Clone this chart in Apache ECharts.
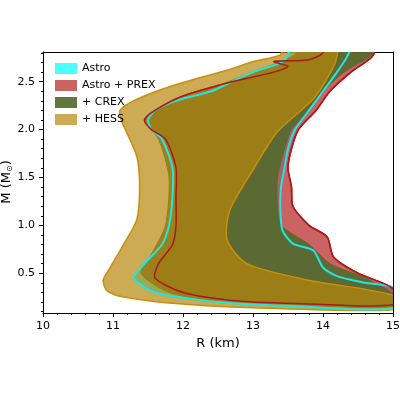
<!DOCTYPE html><html><head><meta charset="utf-8"><script src="https://cdn.jsdelivr.net/npm/echarts@6/dist/echarts.min.js"></script></head><body style="margin:0"><div id="c" style="width:400px;height:400px"></div><script>
const astroLeft=[[15,0.135],[13.5,0.16],[12.5,0.2],[11.6,0.3],[11.3,0.45],[11.45,0.6],[11.7,0.8],[11.8,1.0],[11.85,1.3],[11.85,1.6],[11.7,1.9],[11.55,2.0],[11.5,2.1],[11.6,2.2],[11.9,2.3],[12.4,2.4],[12.7,2.5],[13.0,2.6],[13.4,2.7],[13.5,2.77],[13.55,2.9]];
const astroRight=[[14.4,2.9],[14.35,2.77],[14.2,2.6],[14.0,2.4],[13.8,2.2],[13.6,2.0],[13.5,1.8],[13.45,1.6],[13.4,1.4],[13.39,1.2],[13.42,0.95],[13.57,0.81],[13.86,0.74],[14.0,0.56],[14.2,0.47],[14.6,0.4],[15,0.35]];
const prexLeft=[[15,0.17],[13.8,0.18],[12.8,0.21],[12.0,0.3],[11.6,0.45],[11.65,0.6],[11.85,0.8],[11.9,1.0],[11.9,1.3],[11.9,1.6],[11.75,1.9],[11.55,2.0],[11.45,2.1],[11.6,2.2],[12.0,2.35],[12.7,2.5],[13.3,2.6],[13.5,2.66],[13.3,2.71],[13.8,2.73],[14.0,2.8],[14.0,2.9]];
const prexRight=[[14.75,2.9],[14.7,2.76],[14.4,2.6],[14.1,2.4],[13.9,2.2],[13.65,2.0],[13.55,1.8],[13.5,1.6],[13.55,1.4],[13.57,1.2],[13.8,1.0],[14.06,0.88],[14.15,0.67],[14.5,0.5],[15,0.34]];
const crexLeft=[[15,0.15],[13.5,0.17],[12.5,0.21],[11.8,0.3],[11.4,0.5],[11.55,0.7],[11.75,1.0],[11.8,1.5],[11.65,1.9],[11.45,2.1],[11.6,2.2],[12.3,2.4],[13.0,2.6],[13.6,2.78],[13.65,2.9]];
const crexRight=[[14.75,2.9],[14.7,2.78],[14.3,2.6],[14.0,2.4],[13.8,2.2],[13.55,2.0],[13.45,1.8],[13.35,1.5],[13.35,1.2],[13.4,1.0],[13.8,0.8],[14.1,0.6],[14.6,0.45],[15,0.28]];
const hessLeft=[[15,0.12],[13.0,0.14],[11.8,0.19],[11.1,0.26],[10.91,0.32],[10.86,0.43],[10.96,0.56],[11.15,0.8],[11.34,1.06],[11.38,1.4],[11.34,1.72],[11.13,2.08],[11.1,2.2],[11.29,2.3],[11.86,2.46],[12.63,2.62],[13.0,2.71],[13.39,2.78],[13.45,2.9]];
const hessRight=[[14.2,2.9],[14.2,2.77],[14.14,2.64],[13.86,2.32],[13.34,1.97],[13.0,1.58],[12.67,1.16],[12.63,0.85],[12.91,0.6],[13.77,0.43],[15,0.27]];
const xTicks=[10,11,12,13,14,15];
const yTicks=[0.5,1.0,1.5,2.0,2.5];
const yMinor=[0.1,0.2,0.3,0.4,0.6,0.7,0.8,0.9,1.1,1.2,1.3,1.4,1.6,1.7,1.8,1.9,2.1,2.2,2.3,2.4,2.6,2.7,2.8];
const bands=[
 {name:'Astro',left:astroLeft,right:astroRight,fill:'rgba(0,255,255,0.7)',edge:'#22e6e6',lw:2},
 {name:'Astro + PREX',left:prexLeft,right:prexRight,fill:'rgba(190,60,60,0.8)',edge:'#b01818',lw:1.5},
 {name:'+ CREX',left:crexLeft,right:crexRight,fill:'rgba(85,107,47,0.92)',edge:'#556b2f',lw:1},
 {name:'+ HESS',left:hessLeft,right:hessRight,fill:'rgba(184,134,11,0.7)',edge:'#c8900a',lw:1.5}];
const series=bands.map(b=>({type:'custom',name:b.name,coordinateSystem:'cartesian2d',data:[[0,0]],clip:true,
 itemStyle:{color:b.fill},
 renderItem:(p,api)=>{const pts=b.left.concat(b.right).map(d=>api.coord(d));
  return {type:'polygon',shape:{points:pts,smooth:0.25},style:{fill:b.fill,stroke:b.edge,lineWidth:b.lw}};}}));
[bands[0],bands[1]].forEach(b=>series.push({type:'custom',name:b.name+'_edge',coordinateSystem:'cartesian2d',data:[[0,0]],clip:true,z:5,
 renderItem:(p,api)=>({type:'polygon',shape:{points:b.left.concat(b.right).map(d=>api.coord(d)),smooth:0.25},style:{fill:'none',stroke:b.edge,lineWidth:b.lw}})}));
const ch=echarts.init(document.getElementById('c'));
const tf={fontFamily:'DejaVu Sans',color:'#000',fontSize:11};
ch.setOption({animation:false,
 grid:{left:43,right:7,top:52,bottom:87,outerBoundsMode:'none',containLabel:false},
 graphic:[{type:'text',x:7,y:182,rotation:Math.PI/2,style:{text:'M (M{s|⊙})',fill:'#000',font:'13px DejaVu Sans',align:'center',verticalAlign:'middle',rich:{s:{fontSize:8,fontFamily:'DejaVu Sans',padding:[5,0,0,0]}}}}],
 legend:{left:50,top:58,orient:'vertical',itemWidth:22,itemHeight:11,itemGap:6,textStyle:{fontFamily:'DejaVu Sans',fontSize:11,color:'#000'},data:bands.map(b=>({name:b.name,icon:'rect',itemStyle:{color:b.fill}}))},
 xAxis:[{type:'value',min:10,max:15,interval:1,name:'R (km)',nameLocation:'middle',nameGap:22,nameTextStyle:{fontFamily:'DejaVu Sans',fontSize:13,color:'#000'},
  axisLine:{onZero:false,lineStyle:{color:'#000'}},axisTick:{inside:false,length:4,lineStyle:{color:'#000'}},minorTick:{show:true,splitNumber:5,length:2,lineStyle:{color:'#000'}},axisLabel:tf,splitLine:{show:false}},
  {type:'value',min:10,max:15,position:'top',axisLine:{onZero:false,lineStyle:{color:'#000'}},axisTick:{show:false},axisLabel:{show:false},splitLine:{show:false}}],
 yAxis:[{type:'value',min:0.085,max:2.81,
  axisLine:{onZero:false,lineStyle:{color:'#000'}},axisTick:{length:4,customValues:yTicks,lineStyle:{color:'#000'}},axisLabel:Object.assign({customValues:yTicks,formatter:v=>v.toFixed(1)},tf),splitLine:{show:false}},
  {type:'value',min:0.085,max:2.81,position:'left',axisLine:{show:false},axisTick:{length:2,customValues:yMinor,lineStyle:{color:'#000'}},axisLabel:{show:false},splitLine:{show:false}},
  {type:'value',min:0.085,max:2.81,position:'right',axisLine:{onZero:false,lineStyle:{color:'#000'}},axisTick:{show:false},axisLabel:{show:false},splitLine:{show:false}}],
 series});
</script></body></html>
